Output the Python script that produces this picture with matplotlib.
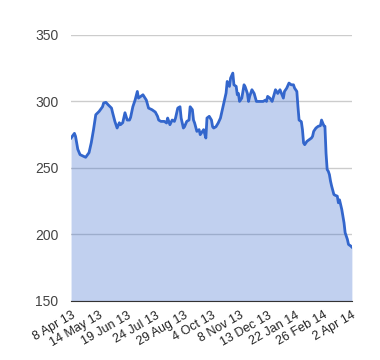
import matplotlib
matplotlib.use("Agg")
import matplotlib.pyplot as plt

# trading-day index (0 = 8 Apr 13) and closing value
days = [0, 3, 4, 6, 8, 11, 13, 16, 18, 20, 22, 25, 28, 29, 31, 33, 36, 37, 39, 41,
        43, 44, 46, 48, 50, 52, 53, 55, 57, 59, 60, 62, 64, 67, 69, 72, 75, 77, 78, 80,
        83, 85, 86, 88, 90, 92, 93, 95, 97, 98, 100, 101, 103, 105, 106, 108, 109, 110, 112, 114,
        115, 117, 118, 120, 121, 123, 125, 126, 127, 129, 131, 133, 134, 136, 138, 139, 141, 142, 144, 145,
        147, 148, 149, 150, 152, 154, 155, 157, 158, 159, 161, 163, 165, 168, 171, 173, 174, 175, 177, 179,
        181, 182, 184, 186, 189, 190, 192, 194, 196, 198, 199, 201, 202, 203, 205, 206, 207, 208, 210, 212,
        214, 215, 216, 218, 220, 222, 223, 225, 226, 227, 228, 229, 230, 231, 232, 234, 235, 237, 238, 239,
        241, 243, 244, 246, 247, 249, 250]
values = [272.5, 276, 273.7, 264, 260, 258.8, 258, 261.5, 269, 278.8, 290, 292.5, 296, 298.8, 299.3, 297.5, 295, 291.5, 285, 280,
          284, 282.5, 284, 291.5, 286, 286, 288, 296, 301, 307.5, 302.5, 303.7, 305, 301, 295, 293.8, 292, 288.8, 286, 285,
          285, 283.8, 287.5, 282.5, 286, 285, 287.5, 295, 296, 287.5, 280, 281, 285, 286, 296, 293.8, 286, 283.8, 277.5, 278.8,
          275, 277.5, 278.8, 272.5, 287.5, 288.8, 286, 281, 280, 281, 283.8, 287.5, 291.3, 298.8, 306.3, 315, 311.3, 317.5, 321.3, 312.5,
          311.3, 305, 306, 300, 302.5, 312.5, 311, 306, 300, 303.8, 308.8, 306, 300, 300, 300, 301, 300, 303.8, 302.5, 300,
          306, 308.8, 306, 308.8, 302.5, 307.5, 310, 313.8, 312.5, 312.5, 310, 307.5, 296, 286, 284.8, 278.8, 268.8, 267.5, 270, 271.3,
          272.5, 273.8, 277.5, 280, 281.3, 281.8, 286, 281.8, 281.3, 261, 248.8, 247.5, 245, 240, 236.3, 230, 229.5, 228.8, 223.8, 226,
          218.8, 208.8, 201.3, 196.3, 192.5, 191.3, 190.5]

tick_days = [0, 25, 50, 75, 100, 125, 150, 175, 200, 225, 250]
tick_labels = ["8 Apr 13", "14 May 13", "19 Jun 13", "24 Jul 13", "29 Aug 13", "4 Oct 13",
               "8 Nov 13", "13 Dec 13", "22 Jan 14", "26 Feb 14", "2 Apr 14"]
y_ticks = [150, 200, 250, 300, 350]

plt.rcParams['font.family'] = ['Arial', 'Liberation Sans', 'DejaVu Sans']

fig = plt.figure(figsize=(3.8, 3.6), dpi=100)
ax = fig.add_axes([0.187, 0.164, 0.739, 0.739])

ax.fill_between(days, values, 150, color="#3366cc", alpha=0.3, linewidth=0, zorder=2)
ax.plot(days, values, color="#3366cc", linewidth=2, zorder=3)

ax.set_xlim(0, 250)
ax.set_ylim(150, 350)
ax.set_yticks(y_ticks)
ax.set_yticklabels([str(v) for v in y_ticks], fontsize=10, color="#444444")
ax.set_xticks(tick_days)
ax.set_xticklabels(tick_labels, rotation=30, ha="right", rotation_mode="anchor",
                   fontsize=9, color="#222222")
ax.tick_params(length=0, pad=6)
ax.tick_params(axis="y", pad=9)

ax.grid(axis="y", color="#cccccc", linewidth=1, zorder=1)
ax.set_axisbelow(True)
for side in ["top", "right", "left"]:
    ax.spines[side].set_visible(False)
ax.spines["bottom"].set_color("#333333")
ax.spines["bottom"].set_zorder(4)

fig.savefig("out.png", dpi=100)
